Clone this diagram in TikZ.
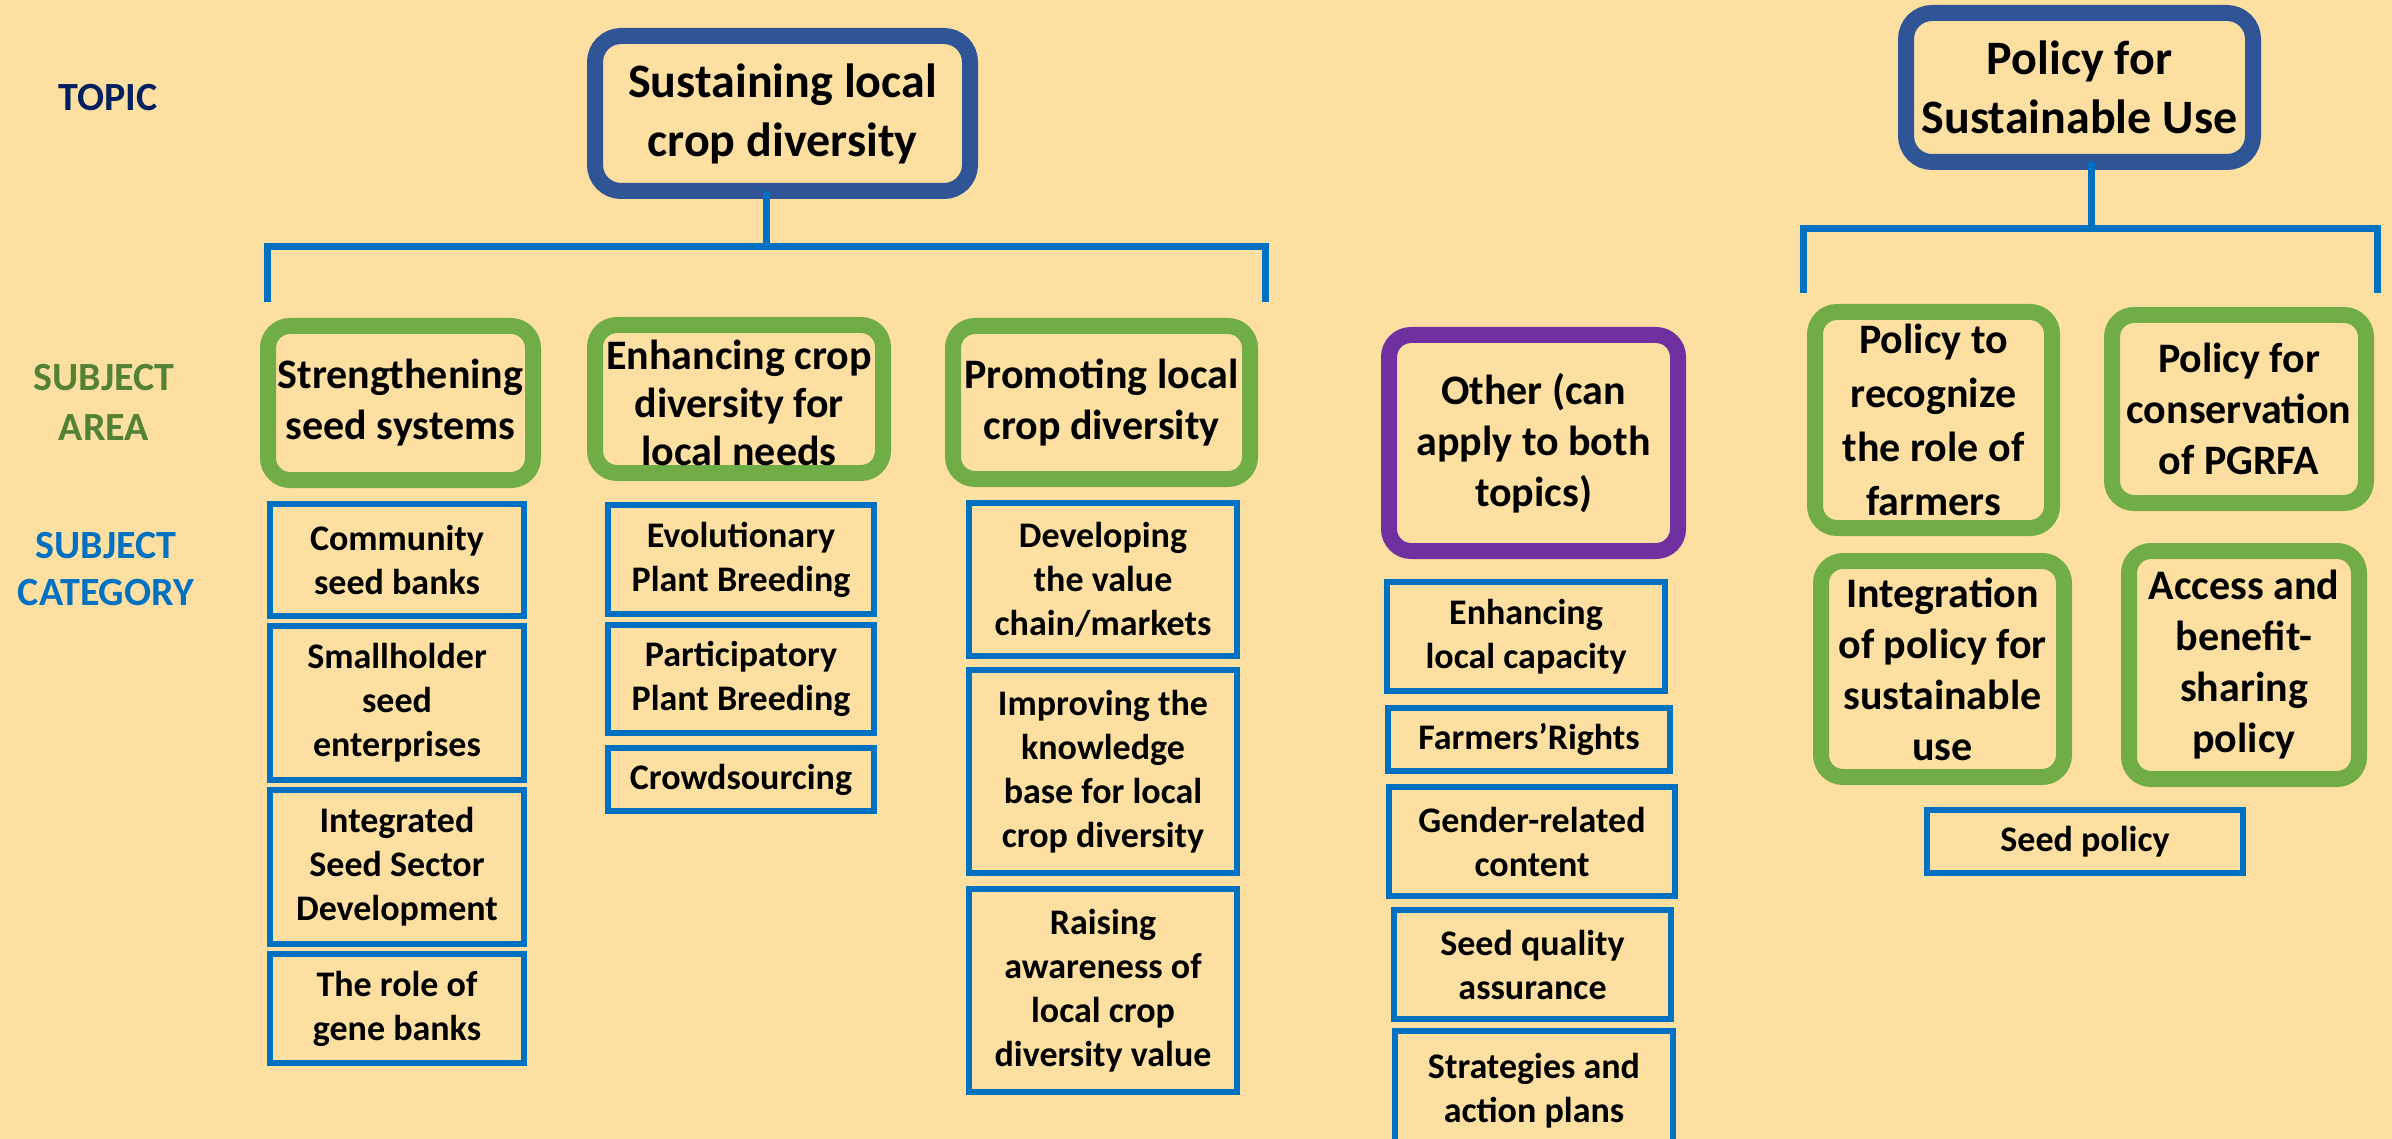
\documentclass[tikz,border=0pt]{standalone}
\usepackage{fontspec}
\setmainfont{Carlito}
\definecolor{bgc}{HTML}{FDDFA2}
\definecolor{topicblue}{HTML}{2F5597}
\definecolor{topicnavy}{HTML}{002060}
\definecolor{areagreen}{HTML}{70AD47}
\definecolor{areatext}{HTML}{548235}
\definecolor{catblue}{HTML}{0070C0}
\definecolor{otherpurple}{HTML}{7030A0}
\tikzset{
  topicbox/.style={draw=topicblue, line width=16pt, rounded corners=26pt, inner sep=0pt, outer sep=0pt, align=center, font=\fontsize{48}{59}\selectfont\bfseries},
  areabox/.style={draw=areagreen, line width=16pt, rounded corners=22pt, inner sep=0pt, outer sep=0pt, align=center, font=\fontsize{42}{51}\selectfont\bfseries},
  otherbox/.style={areabox, draw=otherpurple},
  catbox/.style={draw=catblue, line width=6pt, inner sep=0pt, outer sep=0pt, align=center, font=\fontsize{36}{44}\selectfont\bfseries},
  conn/.style={draw=catblue, line width=7pt},
  lbl/.style={inner sep=0pt, align=center, font=\fontsize{40}{50}\selectfont\bfseries}
}
\begin{document}
\begin{tikzpicture}[x=1pt,y=-1pt]
\useasboundingbox (0,0) rectangle (2392,1139);
\clip (0,0) rectangle (2392,1139);
\fill[bgc] (0,0) rectangle (2392,1139);

% left labels
\node[lbl, text=topicnavy] (lt) at (108,98) {TOPIC};
\node[lbl, text=areatext] (la) at (104,402) {SUBJECT\\AREA};
\node[lbl, text=catblue, font=\fontsize{40}{47}\selectfont\bfseries] (lc) at (106,569) {SUBJECT\\CATEGORY};

% topic 1
\node[topicbox, minimum width=375pt, minimum height=155pt] (t1) at (782.5,113.5) {\raisebox{0pt}{Sustaining local}\\crop diversity};
\coordinate (b1M) at (766,247);
\coordinate (b1L) at (267,302);
\coordinate (b1R) at (1265,302);
\draw[conn] (t1.south -| b1M) -- (b1M);
\draw[conn] (b1L) -- (b1L |- b1M) -- (b1R |- b1M) -- (b1R);

% subject areas 1
\node[areabox, minimum width=265pt, minimum height=154pt] (a1) at (400.5,403) {Strengthening\\seed systems};
\node[areabox, minimum width=288pt, minimum height=148pt, font=\fontsize{42}{48}\selectfont\bfseries] (a2) at (739,399) {\\[-10pt]Enhancing crop\\diversity for\\local needs};
\node[areabox, minimum width=297pt, minimum height=153pt] (a3) at (1101.5,402.5) {Promoting local\\crop diversity};

% categories col 1
\node[catbox, minimum width=254pt, minimum height=112pt] (c11) at (397,560) {Community\\seed banks};
\node[catbox, minimum width=254pt, minimum height=154pt] (c12) at (397,703) {Smallholder\\seed\\enterprises};
\node[catbox, minimum width=254pt, minimum height=154pt] (c13) at (397,867) {Integrated\\Seed Sector\\Development};
\node[catbox, minimum width=254pt, minimum height=109pt] (c14) at (397,1008.5) {The role of\\gene banks};

% col 2
\node[catbox, minimum width=266pt, minimum height=109pt] (c21) at (741,559.5) {Evolutionary\\Plant Breeding};
\node[catbox, minimum width=266pt, minimum height=108pt] (c22) at (741,679) {Participatory\\Plant Breeding};
\node[catbox, minimum width=266pt, minimum height=63pt] (c23) at (741,779.5) {Crowdsourcing};

% col 3
\node[catbox, minimum width=268pt, minimum height=153pt] (c31) at (1103,579.5) {Developing\\the value\\chain/markets};
\node[catbox, minimum width=268pt, minimum height=203pt] (c32) at (1103,771.5) {Improving the\\knowledge\\base for local\\crop diversity};
\node[catbox, minimum width=268pt, minimum height=203pt] (c33) at (1103,990.5) {Raising\\awareness of\\local crop\\diversity value};

% other
\node[otherbox, minimum width=289pt, minimum height=216pt] (o) at (1533.5,443) {Other (can\\apply to both\\topics)};
\node[catbox, minimum width=278pt, minimum height=109pt] (o1) at (1526,636.5) {Enhancing\\local capacity};
\node[catbox, minimum width=282pt, minimum height=63pt] (o2) at (1529,739.5) {Farmers’Rights};
\node[catbox, minimum width=286pt, minimum height=109pt] (o3) at (1532,841.5) {Gender-related\\content};
\node[catbox, minimum width=277pt, minimum height=109pt] (o4) at (1532.5,964.5) {Seed quality\\assurance};
\node[catbox, minimum width=278pt, minimum height=119pt] (o5) at (1534,1090.5) {Strategies and\\action plans};

% topic 2
\node[topicbox, minimum width=347pt, minimum height=149pt] (t2) at (2079.5,87.5) {Policy for\\Sustainable Use};
\coordinate (b2M) at (2091,229);
\coordinate (b2L) at (1803,293);
\coordinate (b2R) at (2377,293);
\draw[conn] (t2.south -| b2M) -- (b2M);
\draw[conn] (b2L) -- (b2L |- b2M) -- (b2R |- b2M) -- (b2R);

\node[areabox, minimum width=237pt, minimum height=216pt, font=\fontsize{42}{54}\selectfont\bfseries] (p1) at (1933.5,420) {Policy to\\recognize\\the role of\\farmers};
\node[areabox, minimum width=254pt, minimum height=188pt] (p2) at (2239,409) {Policy for\\conservation\\of PGRFA};
\node[areabox, minimum width=243pt, minimum height=216pt] (p3) at (1942.5,669) {Integration\\of policy for\\sustainable\\use};
\node[areabox, minimum width=230pt, minimum height=228pt] (p4) at (2244,665) {Access and\\benefit-\\sharing\\policy};
\node[catbox, minimum width=316pt, minimum height=63pt] (p5) at (2085,841.5) {Seed policy};
\end{tikzpicture}
\end{document}
